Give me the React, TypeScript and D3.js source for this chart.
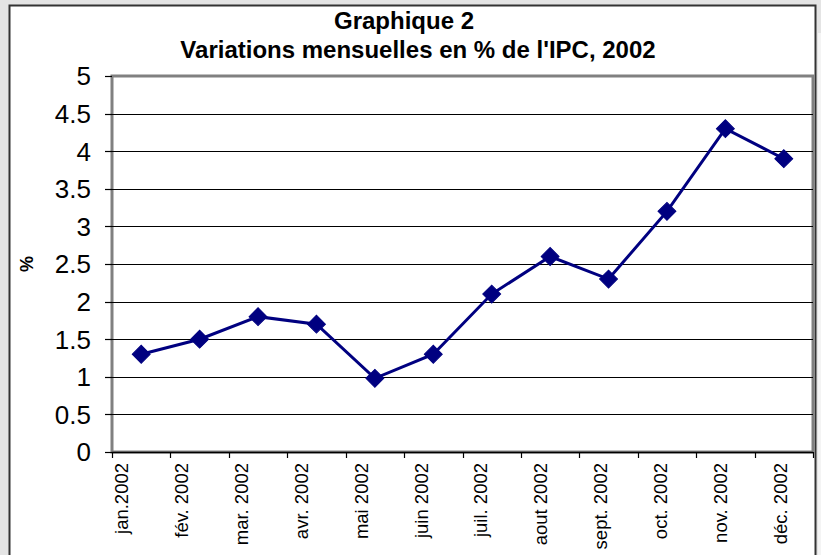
import React, { useEffect, useRef } from "react";
import * as d3 from "d3";

const months = [
  "jan.2002",
  "fév. 2002",
  "mar. 2002",
  "avr. 2002",
  "mai 2002",
  "juin 2002",
  "juil. 2002",
  "aout 2002",
  "sept. 2002",
  "oct. 2002",
  "nov. 2002",
  "déc. 2002",
];
const ipcChange = [1.3, 1.5, 1.8, 1.7, 0.98, 1.3, 2.1, 2.6, 2.3, 3.2, 4.3, 3.9];
const yTicks = [0, 0.5, 1, 1.5, 2, 2.5, 3, 3.5, 4, 4.5, 5];

const W = 821;
const H = 555;

const App: React.FC = () => {
  const svgRef = useRef<SVGSVGElement | null>(null);

  useEffect(() => {
    const svg = d3.select(svgRef.current);
    svg.selectAll("*").remove();

    const font = "Arial, 'Liberation Sans', sans-serif";
    const plot = { left: 112, right: 813, top: 76, bottom: 452 };

    // page background + chart frame
    svg.append("rect").attr("width", W).attr("height", H).attr("fill", "#e4e4e4");
    svg
      .append("rect")
      .attr("x", 818)
      .attr("y", 33)
      .attr("width", 4)
      .attr("height", H)
      .attr("fill", "#f4f4f4");
    svg
      .append("rect")
      .attr("x", 9.5)
      .attr("y", 5.5)
      .attr("width", 806)
      .attr("height", 570)
      .attr("fill", "#fff")
      .attr("stroke", "#333")
      .attr("stroke-width", 2);

    const x = d3
      .scaleBand<string>()
      .domain(months)
      .range([plot.left, plot.right])
      .padding(0);
    // rotated labels sit slightly apart from the band centres
    const xLabel = d3.scalePoint<string>().domain(months).range([128, 787]);
    const y = d3.scaleLinear().domain([0, 5]).range([plot.bottom, plot.top]);

    // plot area border
    svg
      .append("rect")
      .attr("x", plot.left)
      .attr("y", plot.top)
      .attr("width", plot.right - plot.left)
      .attr("height", plot.bottom - plot.top)
      .attr("fill", "none")
      .attr("stroke", "#808080")
      .attr("stroke-width", 3);

    // gridlines
    svg
      .append("g")
      .selectAll("line")
      .data(yTicks.filter((t) => t > 0 && t < 5))
      .join("line")
      .attr("x1", plot.left)
      .attr("x2", plot.right)
      .attr("y1", (d) => Math.round(y(d)) + 0.5)
      .attr("y2", (d) => Math.round(y(d)) + 0.5)
      .attr("stroke", "#000")
      .attr("stroke-width", 1.2);

    // y axis
    const yAxis = svg.append("g");
    yAxis
      .selectAll("line")
      .data(yTicks)
      .join("line")
      .attr("x1", plot.left - 7)
      .attr("x2", plot.left)
      .attr("y1", (d) => Math.round(y(d)) + 0.5)
      .attr("y2", (d) => Math.round(y(d)) + 0.5)
      .attr("stroke", "#000")
      .attr("stroke-width", 1.2);
    yAxis
      .selectAll("text")
      .data(yTicks)
      .join("text")
      .attr("x", 91)
      .attr("y", (d) => y(d))
      .attr("dy", "0.36em")
      .attr("text-anchor", "end")
      .style("font-family", font)
      .style("font-size", "26px")
      .attr("fill", "#000")
      .text((d) => String(d));

    svg
      .append("text")
      .attr("transform", `translate(33, ${y(2.5)}) rotate(-90)`)
      .attr("text-anchor", "middle")
      .style("font-family", font)
      .style("font-size", "18px")
      .style("font-weight", "bold")
      .text("%");

    // x axis
    svg
      .append("line")
      .attr("x1", plot.left)
      .attr("x2", plot.right)
      .attr("y1", plot.bottom + 0.5)
      .attr("y2", plot.bottom + 0.5)
      .attr("stroke", "#000")
      .attr("stroke-width", 1.5);
    const tickXs = months.map((m) => x(m) as number).concat(plot.right);
    svg
      .append("g")
      .selectAll("line")
      .data(tickXs)
      .join("line")
      .attr("x1", (d) => Math.round(d) + 0.5)
      .attr("x2", (d) => Math.round(d) + 0.5)
      .attr("y1", plot.bottom)
      .attr("y2", plot.bottom + 6)
      .attr("stroke", "#000")
      .attr("stroke-width", 1.2);
    svg
      .append("g")
      .selectAll("text")
      .data(months)
      .join("text")
      .attr(
        "transform",
        (d) => `translate(${xLabel(d) as number}, ${plot.bottom + 11}) rotate(-90)`
      )
      .attr("text-anchor", "end")
      .style("font-family", font)
      .style("font-size", "18.5px")
      .attr("fill", "#000")
      .text((d) => d);

    // series
    const cx = (i: number) => (x(months[i]) as number) + x.bandwidth() / 2;
    const line = d3
      .line<number>()
      .x((_, i) => cx(i))
      .y((d) => y(d));
    svg
      .append("path")
      .datum(ipcChange)
      .attr("d", line)
      .attr("fill", "none")
      .attr("stroke", "#000080")
      .attr("stroke-width", 3);

    const diamond = d3.symbol().type(d3.symbolSquare).size(160);
    svg
      .append("g")
      .selectAll("path")
      .data(ipcChange)
      .join("path")
      .attr("d", diamond as any)
      .attr("transform", (d, i) => `translate(${cx(i)}, ${y(d)}) rotate(45)`)
      .attr("fill", "#000080")
      .attr("stroke", "#000080")
      .attr("stroke-width", 1);

    // title
    const title = svg
      .append("text")
      .attr("text-anchor", "middle")
      .style("font-family", font)
      .style("font-size", "24px")
      .style("font-weight", "bold")
      .attr("fill", "#000");
    title.append("tspan").attr("x", 404).attr("y", 29).text("Graphique 2");
    title
      .append("tspan")
      .attr("x", 418)
      .attr("y", 58)
      .text("Variations mensuelles en % de l'IPC, 2002");
  }, []);

  return (
    <svg
      ref={svgRef}
      width={W}
      height={H}
      style={{ position: "absolute", left: 0, top: 0, display: "block" }}
    />
  );
};

export default App;
